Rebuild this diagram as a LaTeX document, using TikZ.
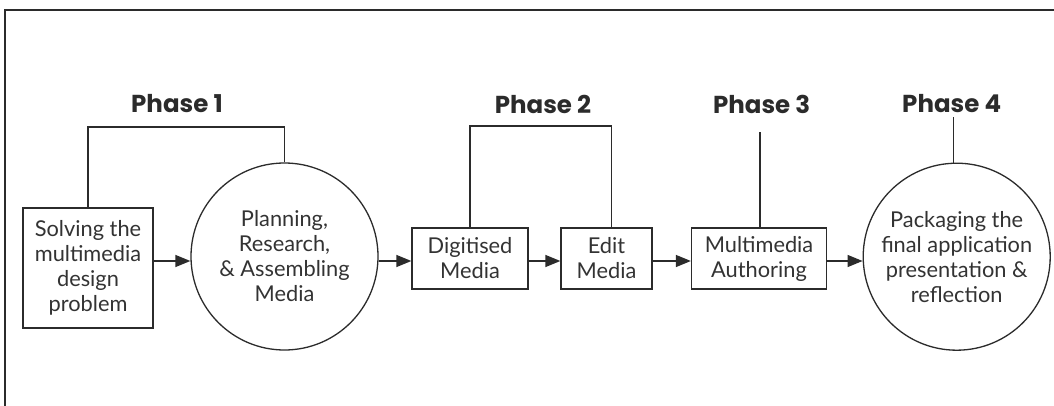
\documentclass[tikz,border=0pt]{standalone}
\usepackage{fontspec}
\setmainfont{Lato}
\newfontfamily\phasefont{Poppins}[UprightFont=* Bold]
\usetikzlibrary{arrows.meta}
\definecolor{ink}{HTML}{2B2B2B}
\definecolor{txt}{HTML}{333333}
\tikzset{
  ln/.style={draw=ink, line width=1.3pt},
  body/.style={text=txt, align=center, font=\fontsize{21.8}{25}\selectfont, inner sep=0pt},
  boxnode/.style={ln, body, rectangle},
  circnode/.style={ln, body, circle, minimum size=187pt},
  phase/.style={text=ink, font=\phasefont\fontsize{24.5}{28}\selectfont, inner sep=0pt},
  arr/.style={ln, -{Triangle[length=15pt,width=12pt]}},
}
\begin{document}
\begin{tikzpicture}[x=1pt, y=-1pt]
\useasboundingbox (0,0) rectangle (1054,406);
\fill[white] (0,0) rectangle (1054,406);
\coordinate (ftr) at (1054,10);
\coordinate (ftl) at (5,10);
\coordinate (fbl) at (5,406);
\draw[ln] (ftr) -- (ftl) -- (fbl);

\node[boxnode, minimum width=130pt, minimum height=120pt] (box1) at (88,268) {Solving the\\multimedia\\design\\problem};
\node[circnode] (circ1) at (284.5,256.5) {Planning,\\Research,\\\& Assembling\\Media};
\node[boxnode, minimum width=116pt, minimum height=61pt] (dig) at (470,258.5) {Digitised\\Media};
\node[boxnode, minimum width=91pt, minimum height=61pt] (edit) at (606.5,258.5) {Edit\\Media};
\node[boxnode, minimum width=135pt, minimum height=61pt] (mm) at (759,258.5) {Multimedia\\Authoring};
\node[circnode] (circ2) at (956.7,256.7) {Packaging the\\final application\\presentation \&\\reflection};

\node[phase] (ph1) at (177,104) {Phase 1};
\node[phase] (ph2) at (543,104) {Phase 2};
\node[phase] (ph3) at (761.7,104) {Phase 3};
\node[phase] (ph4) at (951.7,104) {Phase 4};

\coordinate (b1) at (177,127);
\coordinate (b2) at (543,126);
\coordinate (e2) at ([xshift=5pt]edit.north);
\coordinate (b3) at (760,132);
\coordinate (b4) at (953.3,117);

\draw[ln] (box1.north) |- (b1) -| (circ1.north);
\draw[ln] (dig.north) |- (b2) -| (e2);
\draw[ln] (mm.north -| b3) -- (b3);
\draw[ln] (circ2.north -| b4) -- (b4);

\coordinate (ay) at (0,261);
\draw[arr] (box1.east |- ay) -- (circ1.west |- ay);
\draw[arr] (circ1.east |- ay) -- (dig.west |- ay);
\draw[arr] (dig.east |- ay) -- (edit.west |- ay);
\draw[arr] (edit.east |- ay) -- (mm.west |- ay);
\draw[arr] (mm.east |- ay) -- (circ2.west |- ay);
\end{tikzpicture}
\end{document}
